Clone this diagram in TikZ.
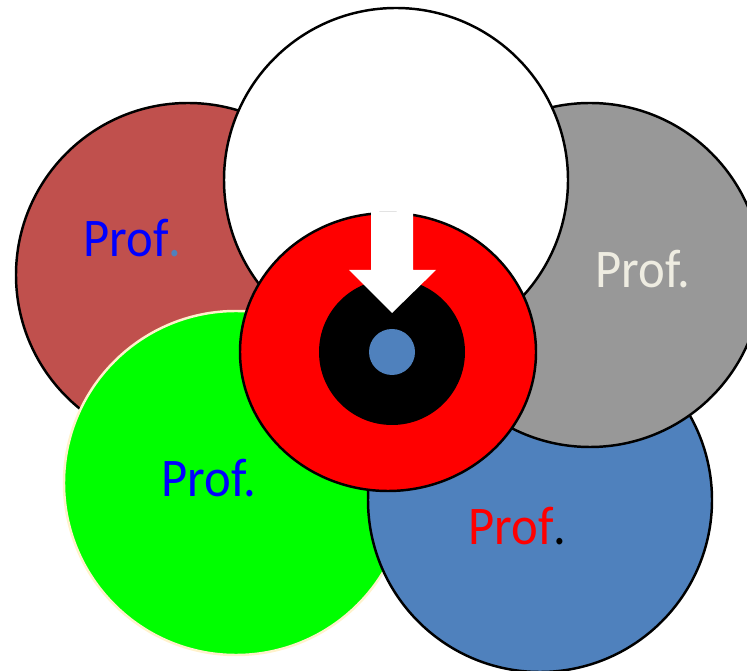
\documentclass[tikz,border=0pt]{standalone}
\usepackage{fontspec}
\setmainfont{Carlito}
\usepackage{xcolor}
\usetikzlibrary{calc}
\definecolor{profbrown}{HTML}{C0504D}
\definecolor{profgray}{HTML}{989898}
\definecolor{profgreen}{HTML}{00FF00}
\definecolor{profblue}{HTML}{4F81BD}
\definecolor{profred}{HTML}{FF0000}
\definecolor{profcream}{HTML}{EEECE1}
\definecolor{profrim}{HTML}{FFF2CC}
\definecolor{profink}{HTML}{0000FF}

\begin{document}
\begin{tikzpicture}[
    x=0.02cm,y=-0.02cm,
    ring/.style   = {draw=black, line width=1.4pt},
    soft/.style   = {draw=profrim, line width=1.4pt},
    lbl/.style    = {anchor=base west, inner sep=0pt,
                     font=\fontsize{31}{36}\selectfont},
  ]

  \useasboundingbox (0,0) rectangle (747,671);

  % outer petals
  \filldraw[ring,fill=profbrown] (188,275) circle (172);
  \filldraw[soft,fill=profgreen] (236,483) circle (172);
  \filldraw[ring,fill=profblue]  (540,500) circle (172);
  \filldraw[ring,fill=profgray]  (590,275) circle (172);
  \filldraw[ring,fill=white]     (396,180) circle (172);

  % centre target
  \filldraw[ring,fill=profred] (388,352) ellipse (148 and 139);
  \fill[black]    (392,352) circle (73);
  \fill[profblue] (392,352) circle (23);

  % arrow down into the target
  \fill[white] (371,212) -- (413,212) -- (413,270) -- (436,270)
               -- (392,313) -- (349,270) -- (371,270) -- cycle;

  \node[lbl] (pbrown) at (83,257)
       {\scalebox{0.93}[1]{\textcolor{profink}{Prof}\textcolor{profblue}{.}}};
  \node[lbl,text=profcream] (pgray) at (595,288)
       {\scalebox{0.93}[1]{Prof.}};
  \node[lbl,text=profink] (pgreen) at (161,497)
       {\scalebox{0.93}[1]{Prof.}};
  \node[lbl] (pblue) at (468,545)
       {\scalebox{0.93}[1]{\textcolor{profred}{Prof}\textcolor{black}{.}}};

\end{tikzpicture}
\end{document}
